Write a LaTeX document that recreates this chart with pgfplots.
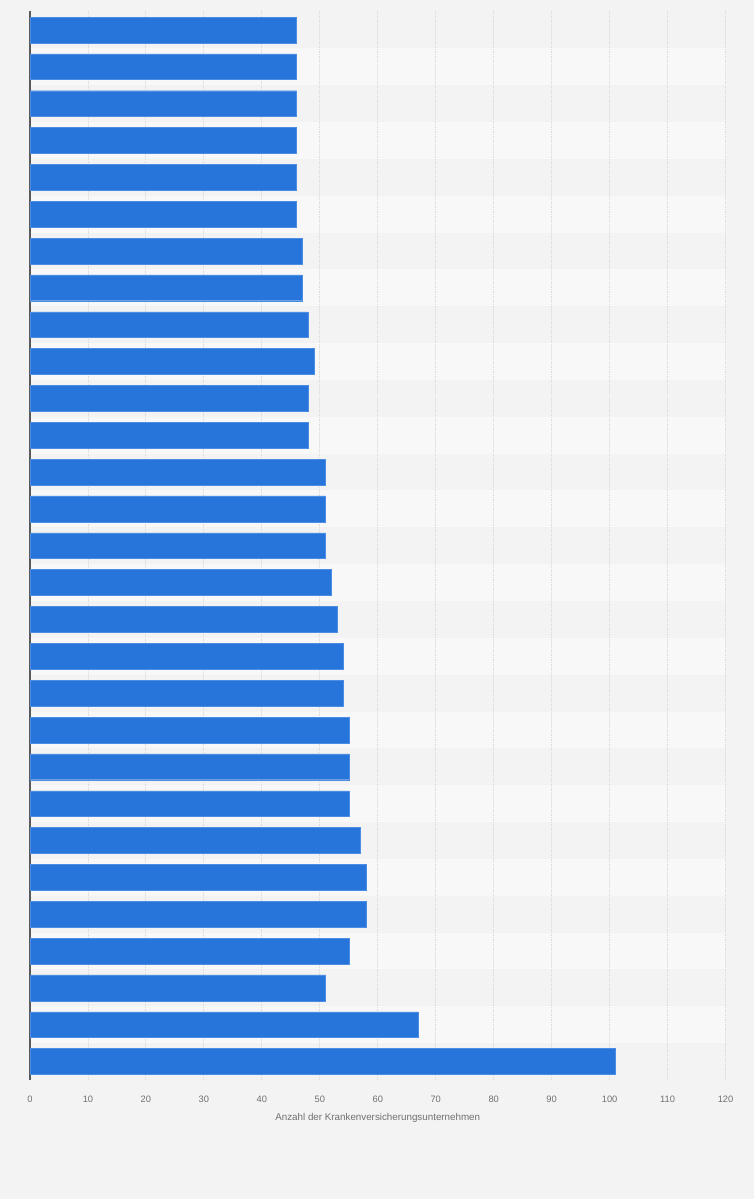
\documentclass[border=0pt]{standalone}
\usepackage{pgfplots}
\pgfplotsset{compat=1.18}
\usepackage{fontspec}
\setmainfont{Liberation Sans}
\definecolor{bg}{HTML}{F3F3F3}
\definecolor{stripe}{HTML}{F8F8F8}
\definecolor{barblue}{HTML}{2775DB}
\definecolor{baredge}{HTML}{4A8DE3}
\definecolor{gridc}{HTML}{DCDCDC}
\definecolor{txt}{HTML}{707070}
\begin{document}
\begin{tikzpicture}
\begin{axis}[
  at={(0pt,0pt)}, anchor=south west,
  set layers,
  scale only axis,
  width=695.5pt, height=1068.5pt,
  xbar, bar width=0.7,
  xmin=0, xmax=120,
  ymin=0.5, ymax=29.5,
  y dir=reverse,
  xtick={0,10,...,120},
  ytick=\empty,
  major tick length=0pt,
  axis y line*=left,
  axis x line*=bottom,
  x axis line style={draw=none},
  y axis line style={draw=black!65, line width=1.3pt},
  xmajorgrids,
  grid style={gridc, line width=0.9pt, dash pattern=on 1.5pt off 1pt},
  /pgf/number format/assume math mode=true,
  tick label style={font=\fontsize{9.3}{11}\selectfont, text=txt},
  xticklabel style={yshift=-12pt},
  xlabel={Anzahl der Krankenversicherungsunternehmen},
  xlabel style={font=\fontsize{9.8}{12}\selectfont, text=txt, yshift=-4pt},
  clip=false,
]
\begin{pgfonlayer}{axis background}
\fill[bg] ([shift={(-30pt,-119pt)}]axis cs:0,29.5) rectangle ([shift={(28.5pt,11.5pt)}]axis cs:120,0.5);
\pgfplotsinvokeforeach{1,...,14}{
  \fill[stripe] (axis cs:0,2*#1-0.5) rectangle (axis cs:120,2*#1+0.5);
}
\end{pgfonlayer}
\addplot[fill=barblue, draw=baredge, line width=0.4pt] coordinates {
(46,1) (46,2) (46,3) (46,4) (46,5) (46,6) (47,7) (47,8) (48,9) (49,10)
(48,11) (48,12) (51,13) (51,14) (51,15) (52,16) (53,17) (54,18) (54,19)
(55,20) (55,21) (55,22) (57,23) (58,24) (58,25) (55,26) (51,27) (67,28) (101,29)
};
\end{axis}
\end{tikzpicture}
\end{document}
